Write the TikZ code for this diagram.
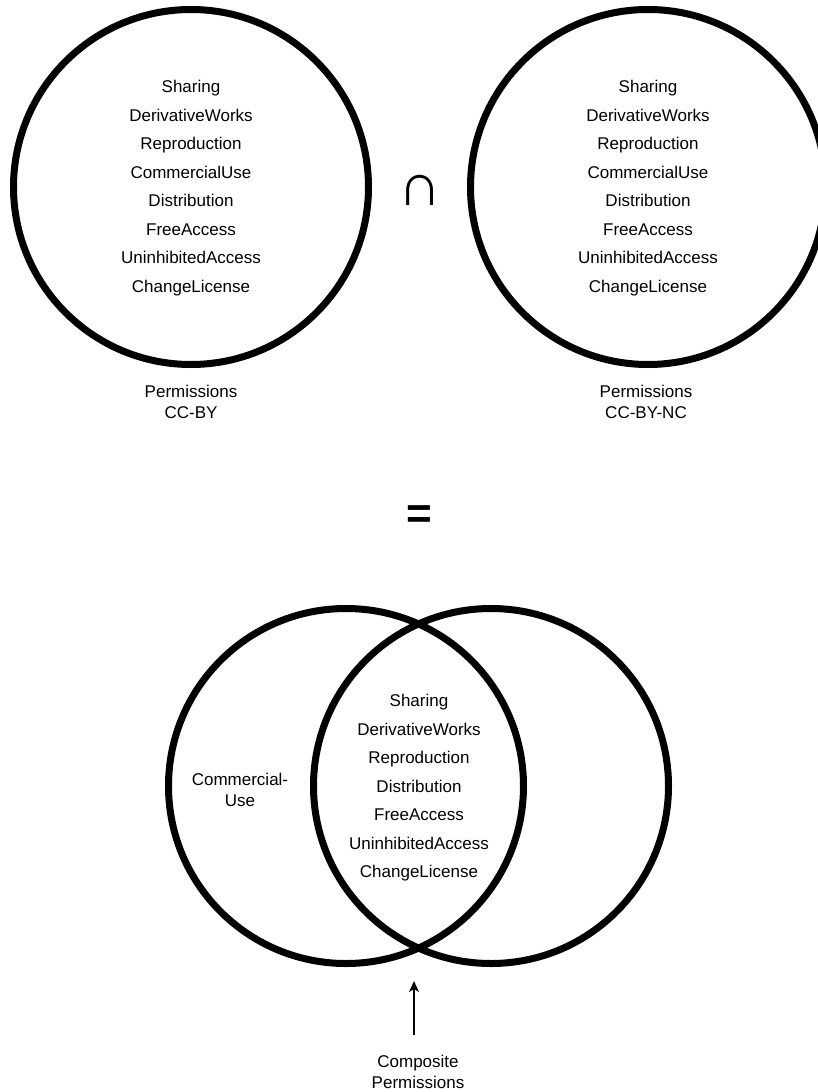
\documentclass[tikz,border=0pt]{standalone}
\usepackage{fontspec}
\setmainfont{Liberation Sans}
\usetikzlibrary{arrows.meta}
\begin{document}
\begin{tikzpicture}[x=1pt,y=-1pt,
  ring/.style={circle, draw=black, line width=7pt, minimum size=355pt, inner sep=0pt},
  listtext/.style={align=center, inner sep=0pt, font=\fontsize{17}{28.5}\selectfont},
  caption/.style={align=center, inner sep=0pt, font=\fontsize{17}{21}\selectfont},
  opsym/.style={inner sep=0pt, font=\fontsize{60}{60}\selectfont},
  eqsym/.style={inner sep=0pt, font=\bfseries\fontsize{44}{44}\selectfont},
  pointer/.style={-{Stealth[length=11pt,width=10pt,inset=3pt]}, line width=1.3pt}]
\useasboundingbox (0,0) rectangle (818,1092);
\clip (0,0) rectangle (818,1092);

% the two licences
\node[ring] (by) at (191,187) {};
\node[ring] (bync) at (648,187) {};
\node[listtext] (bytext) at (191,188) {Sharing\\DerivativeWorks\\Reproduction\\CommercialUse\\Distribution\\FreeAccess\\UninhibitedAccess\\ChangeLicense};
\node[listtext] (bynctext) at (648,188) {Sharing\\DerivativeWorks\\Reproduction\\CommercialUse\\Distribution\\FreeAccess\\UninhibitedAccess\\ChangeLicense};
\node[caption] (bylabel) at (191,402) {Permissions\\CC-BY};
\node[caption] (bynclabel) at (646,402) {Permissions\\CC-BY-NC};

% operators
\node[opsym] (cap) at (420,190) {∩};
\node[eqsym] (eq) at (419,517) {=};

% overlapping result
\node[ring] (left) at (346,786) {};
\node[ring] (right) at (491,786) {};
\node[listtext] (common) at (419,788) {Sharing\\DerivativeWorks\\Reproduction\\Distribution\\FreeAccess\\UninhibitedAccess\\ChangeLicense};
\node[caption] (only) at (240,789.5) {Commercial-\\Use};

% pointer to the overlap
\node[caption] (composite) at (418,1071.5) {Composite\\Permissions};
\coordinate (tail) at (414,1035);
\coordinate (tip) at (414,981);
\draw[pointer] (tail) -- (tip);
\end{tikzpicture}
\end{document}
